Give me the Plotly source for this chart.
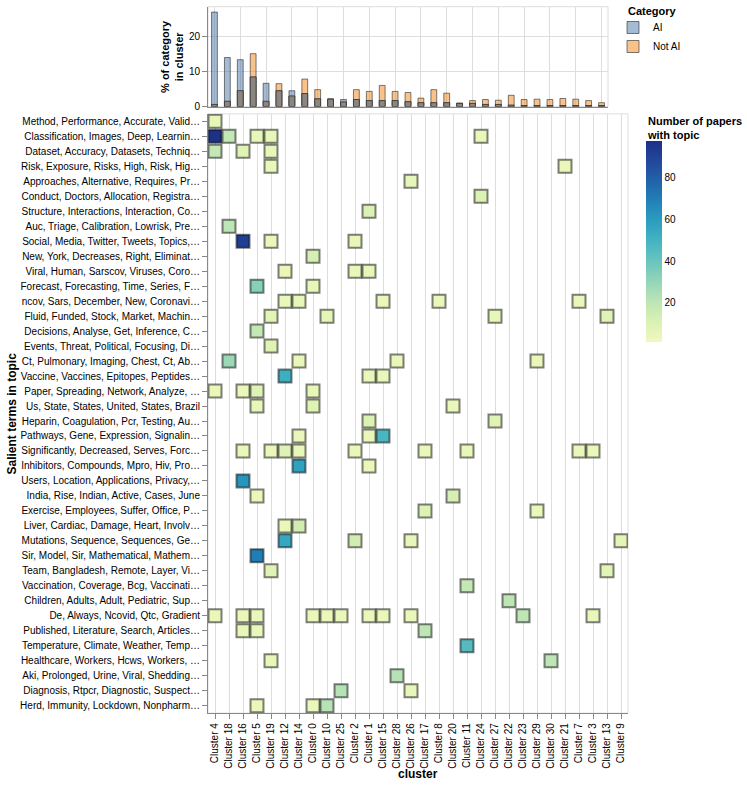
import plotly.graph_objects as go

W, H = 747, 788
YK = 1.0065          # small vertical correction measured against the reference
FONT = "Liberation Sans, Arial, sans-serif"

# ---------------- data ----------------
bar_clusters = ["Cluster 4", "Cluster 18", "Cluster 16", "Cluster 5", "Cluster 19", "Cluster 12",
                "Cluster 6", "Cluster 14", "Cluster 0", "Cluster 10", "Cluster 25", "Cluster 2",
                "Cluster 1", "Cluster 15", "Cluster 28", "Cluster 26", "Cluster 17", "Cluster 8",
                "Cluster 20", "Cluster 11", "Cluster 24", "Cluster 27", "Cluster 22", "Cluster 23",
                "Cluster 29", "Cluster 30", "Cluster 21", "Cluster 7", "Cluster 3", "Cluster 13",
                "Cluster 9"]
ai_pct = [26.8, 13.9, 13.3, 8.4, 6.6, 4.5, 4.5, 3.7, 2.2, 2.2, 2.0, 2.0, 1.7, 1.7, 1.7, 1.4,
          1.1, 1.1, 1.1, 1.0, 0.9, 0.6, 0.6, 0.4, 0.3, 0.3, 0.3, 0.3, 0.3, 0.3, 0.3]
notai_pct = [0.6, 1.5, 4.5, 15.0, 1.5, 6.5, 3.0, 7.8, 4.8, 2.1, 1.3, 4.8, 4.3, 6.0, 4.3, 4.0,
             2.4, 4.8, 3.8, 0.9, 1.7, 2.0, 1.8, 3.2, 2.0, 2.1, 2.0, 2.3, 2.1, 1.7, 1.1]

heat_clusters = ["Cluster 4", "Cluster 18", "Cluster 16", "Cluster 5", "Cluster 19", "Cluster 12",
                 "Cluster 14", "Cluster 0", "Cluster 10", "Cluster 25", "Cluster 2", "Cluster 1",
                 "Cluster 15", "Cluster 28", "Cluster 26", "Cluster 17", "Cluster 8", "Cluster 20",
                 "Cluster 11", "Cluster 24", "Cluster 27", "Cluster 22", "Cluster 23", "Cluster 29",
                 "Cluster 30", "Cluster 21", "Cluster 7", "Cluster 3", "Cluster 13", "Cluster 9"]

topics = [
    "Method, Performance, Accurate, Valid…",
    "Classification, Images, Deep, Learnin…",
    "Dataset, Accuracy, Datasets, Techniq…",
    "Risk, Exposure, Risks, High, Risk, Hig…",
    "Approaches, Alternative, Requires, Pr…",
    "Conduct, Doctors, Allocation, Registra…",
    "Structure, Interactions, Interaction, Co…",
    "Auc, Triage, Calibration, Lowrisk, Pre…",
    "Social, Media, Twitter, Tweets, Topics,…",
    "New, York, Decreases, Right, Eliminat…",
    "Viral, Human, Sarscov, Viruses, Coro…",
    "Forecast, Forecasting, Time, Series, F…",
    "ncov, Sars, December, New, Coronavi…",
    "Fluid, Funded, Stock, Market, Machin…",
    "Decisions, Analyse, Get, Inference, C…",
    "Events, Threat, Political, Focusing, Di…",
    "Ct, Pulmonary, Imaging, Chest, Ct, Ab…",
    "Vaccine, Vaccines, Epitopes, Peptides…",
    "Paper, Spreading, Network, Analyze, …",
    "Us, State, States, United, States, Brazil",
    "Heparin, Coagulation, Pcr, Testing, Au…",
    "Pathways, Gene, Expression, Signalin…",
    "Significantly, Decreased, Serves, Forc…",
    "Inhibitors, Compounds, Mpro, Hiv, Pro…",
    "Users, Location, Applications, Privacy,…",
    "India, Rise, Indian, Active, Cases, June",
    "Exercise, Employees, Suffer, Office, P…",
    "Liver, Cardiac, Damage, Heart, Involv…",
    "Mutations, Sequence, Sequences, Ge…",
    "Sir, Model, Sir, Mathematical, Mathem…",
    "Team, Bangladesh, Remote, Layer, Vi…",
    "Vaccination, Coverage, Bcg, Vaccinati…",
    "Children, Adults, Adult, Pediatric, Sup…",
    "De, Always, Ncovid, Qtc, Gradient",
    "Published, Literature, Search, Articles…",
    "Temperature, Climate, Weather, Temp…",
    "Healthcare, Workers, Hcws, Workers, …",
    "Aki, Prolonged, Urine, Viral, Shedding…",
    "Diagnosis, Rtpcr, Diagnostic, Suspect…",
    "Herd, Immunity, Lockdown, Nonpharm…",
]

# cells: topic index (0-based), cluster number, number of papers
cell_topic = [0,
              1, 1, 1, 1, 1,
              2, 2, 2,
              3, 3,
              4,
              5,
              6,
              7,
              8, 8, 8,
              9,
              10, 10, 10,
              11, 11,
              12, 12, 12, 12, 12,
              13, 13, 13, 13,
              14,
              15,
              16, 16, 16, 16,
              17, 17, 17,
              18, 18, 18, 18,
              19, 19, 19,
              20, 20,
              21, 21, 21,
              22, 22, 22, 22, 22, 22, 22, 22, 22,
              23, 23,
              24,
              25, 25,
              26, 26,
              27, 27,
              28, 28, 28, 28,
              29,
              30, 30,
              31,
              32,
              33, 33, 33, 33, 33, 33, 33, 33, 33, 33, 33,
              34, 34, 34,
              35,
              36, 36,
              37,
              38, 38,
              39, 39, 39]
cell_cluster = [4,
                4, 18, 5, 19, 24,
                4, 16, 19,
                19, 21,
                26,
                24,
                1,
                18,
                16, 19, 2,
                0,
                12, 2, 1,
                5, 0,
                12, 14, 15, 8, 7,
                19, 10, 27, 13,
                5,
                19,
                18, 14, 28, 29,
                12, 1, 15,
                4, 16, 5, 0,
                5, 0, 20,
                1, 27,
                14, 1, 15,
                16, 19, 12, 14, 2, 17, 11, 7, 3,
                14, 1,
                16,
                5, 20,
                17, 29,
                12, 14,
                12, 2, 26, 9,
                5,
                19, 13,
                11,
                22,
                4, 16, 5, 0, 10, 25, 1, 15, 26, 23, 3,
                16, 5, 17,
                11,
                19, 30,
                28,
                25, 26,
                5, 0, 10]
cell_count = [5,
              97, 18, 5, 5, 4,
              18, 8, 5,
              4, 4,
              5,
              10,
              10,
              20,
              92, 4, 4,
              12,
              4, 4, 5,
              33, 5,
              4, 5, 4, 4, 4,
              7, 6, 5, 8,
              18,
              8,
              28, 4, 4, 4,
              52, 4, 4,
              4, 4, 8, 5,
              5, 8, 4,
              10, 8,
              4, 4, 48,
              4, 4, 9, 4, 4, 4, 4, 4, 4,
              58, 4,
              62,
              4, 12,
              9, 4,
              4, 14,
              55, 14, 5, 6,
              70,
              8, 7,
              18,
              20,
              4, 4, 4, 4, 4, 4, 4, 4, 4, 20, 4,
              4, 4, 20,
              45,
              5, 20,
              22,
              22, 5,
              4, 4, 22]

# ---------------- figure ----------------
def px_x(p):
    return min(1.0, max(0.0, p / W))

def px_y(p):
    return min(1.0, max(0.0, 1 - p * YK / H))

ygb = ["#eff9bd", "#dbf1b4", "#bde5b5", "#94d5b9", "#69c5be", "#45b4c2",
       "#2c9ec0", "#2182b8", "#2163aa", "#23479c", "#1c3185"]
colorscale = [[i / (len(ygb) - 1), c] for i, c in enumerate(ygb)]

BAR_TOP, BAR_BOTTOM = 6.7, 106.7          # bar panel (px from top of page)
PX_PER_PCT = 3.53

fig = go.Figure()

overlap = [min(a, b) for a, b in zip(ai_pct, notai_pct)]
bar_line = dict(color="rgba(40,40,40,0.6)", width=1)

fig.add_trace(go.Bar(x=bar_clusters, y=notai_pct, name="Not AI", width=0.45,
                     marker=dict(color="rgba(245,133,24,0.5)", line=bar_line),
                     xaxis="x", yaxis="y", legendrank=2))
fig.add_trace(go.Bar(x=bar_clusters, y=ai_pct, name="AI", width=0.45,
                     marker=dict(color="rgba(76,120,168,0.5)", line=bar_line),
                     xaxis="x", yaxis="y", legendrank=1))
fig.add_trace(go.Bar(x=bar_clusters, y=overlap, name="both", width=0.45, showlegend=False,
                     marker=dict(color="rgba(138,132,126,0.92)", line=bar_line),
                     xaxis="x", yaxis="y"))

fig.add_trace(go.Scatter(
    x=["Cluster %d" % c for c in cell_cluster],
    y=[topics[t] for t in cell_topic],
    mode="markers", showlegend=False, xaxis="x2", yaxis="y2",
    marker=dict(symbol="square", size=13, color=cell_count, colorscale=colorscale,
                cmin=1, cmax=97.5, line=dict(color="rgba(0,0,0,0.5)", width=2),
                colorbar=dict(x=px_x(646), xanchor="left", y=px_y(342.7), yanchor="bottom",
                              len=200 * YK, lenmode="pixels", thickness=16,
                              thicknessmode="pixels", outlinewidth=0,
                              tickvals=[20, 40, 60, 80], ticks="",
                              ticklabelposition="outside", xpad=0, ypad=0,
                              tickfont=dict(size=10, color="#000", family=FONT)))))

axis_common = dict(linecolor="#888", linewidth=1, showline=True, tickcolor="#888",
                   ticklen=5, tickwidth=1, zeroline=False,
                   tickfont=dict(size=10, color="#000", family=FONT))

fig.update_layout(
    width=W, height=H, margin=dict(l=0, r=0, t=0, b=0),
    paper_bgcolor="white", plot_bgcolor="white",
    barmode="overlay",
    font=dict(family=FONT, color="#000"),
    xaxis=dict(domain=[px_x(208), px_x(608)], anchor="y", type="category",
               categoryorder="array", categoryarray=bar_clusters,
               range=[-0.5, len(bar_clusters) - 0.5], showticklabels=False, ticks="",
               showgrid=True, gridcolor="#ddd", **{k: v for k, v in axis_common.items()
                                                   if k not in ("tickfont",)}),
    yaxis=dict(domain=[px_y(BAR_BOTTOM), px_y(BAR_TOP)], anchor="x",
               range=[0, (BAR_BOTTOM - BAR_TOP) / PX_PER_PCT],
               tickvals=[0, 10, 20], ticks="outside", showgrid=True, gridcolor="#ddd",
               **axis_common),
    xaxis2=dict(domain=[px_x(208), px_x(628)], anchor="y2", type="category",
                categoryorder="array", categoryarray=heat_clusters,
                range=[-0.5, len(heat_clusters) - 0.5], tickangle=-90, ticks="outside",
                showgrid=True, gridcolor="#ddd", **axis_common),
    yaxis2=dict(domain=[px_y(714), px_y(114)], anchor="x2", type="category",
                categoryorder="array", categoryarray=topics,
                range=[len(topics) - 0.5, -0.5], ticks="outside", showgrid=False,
                **axis_common),
    legend=dict(x=px_x(613), y=px_y(13), xanchor="left", yanchor="top",
                font=dict(size=10, family=FONT, color="#000"), bgcolor="rgba(0,0,0,0)",
                traceorder="normal", tracegroupgap=0),
    shapes=[
        dict(type="rect", xref="paper", yref="paper", x0=px_x(208), x1=px_x(608),
             y0=px_y(BAR_BOTTOM), y1=px_y(BAR_TOP), line=dict(color="#ddd", width=1),
             layer="below"),
        dict(type="rect", xref="paper", yref="paper", x0=px_x(208), x1=px_x(628),
             y0=px_y(714), y1=px_y(114), line=dict(color="#ddd", width=1), layer="below"),
    ],
    annotations=[
        dict(text="<b>Category</b>", x=px_x(626), y=px_y(11), xref="paper", yref="paper",
             xanchor="left", yanchor="middle", showarrow=False,
             font=dict(size=11, family=FONT)),
        dict(text="<b>Number of papers<br>with topic</b>", x=px_x(645), y=px_y(128),
             xref="paper", yref="paper", xanchor="left", yanchor="middle", align="left",
             showarrow=False, font=dict(size=11, family=FONT)),
        dict(text="<b>% of category<br>in cluster</b>", x=px_x(172), y=px_y(57), xref="paper",
             yref="paper", xanchor="center", yanchor="middle", showarrow=False, textangle=-90,
             font=dict(size=11, family=FONT)),
        dict(text="<b>Salient terms in topic</b>", x=px_x(12), y=px_y(414), xref="paper",
             yref="paper", xanchor="center", yanchor="middle", showarrow=False, textangle=-90,
             font=dict(size=12, family=FONT)),
        dict(text="<b>cluster</b>", x=px_x(418), y=px_y(775), xref="paper", yref="paper",
             xanchor="center", yanchor="middle", showarrow=False,
             font=dict(size=12, family=FONT)),
    ],
)

fig.write_html("out.html", config={"displayModeBar": False},
               post_script="document.body.style.margin='0';document.body.style.overflow='hidden';")
